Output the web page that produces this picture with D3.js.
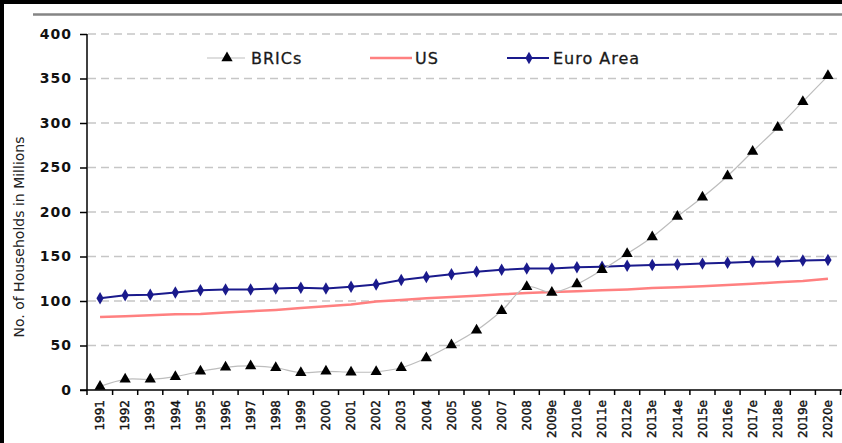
<!DOCTYPE html>
<html><head><meta charset="utf-8">
<script src="https://cdn.jsdelivr.net/npm/d3@7/dist/d3.min.js"></script>
<style>html,body{margin:0;padding:0;background:#fff;overflow:hidden}</style>
</head><body>
<script>
const categories = ["1991","1992","1993","1994","1995","1996","1997","1998","1999","2000","2001","2002","2003","2004","2005","2006","2007","2008","2009e","2010e","2011e","2012e","2013e","2014e","2015e","2016e","2017e","2018e","2019e","2020e"];
const brics = [4,12,12,15,21,25.5,27,25,19.5,21,20,20.5,25,36,50.5,67,89,116,109.5,119,135,153,172,195,216.5,240.5,268,295,324,353];
const us = [82,83,84,85,85.5,87,88.5,90,92,94,96,99.5,101,103,104.5,106,107.5,109,110,111,112,113,114.5,115.5,116.5,118,119.5,121,122.5,125];
const euro = [103,106.5,107,109.5,112,113,113,114,115,114,116,118.5,123.5,127,130,133,135,136.5,136.5,138,138.5,139.5,140.5,141,142,143,144,144.5,145.5,146];
const yTicks = [0,50,100,150,200,250,300,350,400];
const seriesNames = ["BRICs","US","Euro Area"];

const W = 842, H = 443;
const svg = d3.select("body").append("svg").attr("width", W).attr("height", H);
svg.append("rect").attr("width", W).attr("height", H).attr("fill", "#fff");

const x = d3.scaleBand().domain(categories).range([87.5, 840.5]).padding(0);
const y = d3.scaleLinear().domain([0, 400]).range([390, 34]);
const cx = d => x(d) + x.bandwidth() / 2;

// frame
svg.append("rect").attr("x", 0).attr("y", 0).attr("width", 4).attr("height", H).attr("fill", "#000");
svg.append("rect").attr("x", 0).attr("y", 0).attr("width", W).attr("height", 4).attr("fill", "#000");
svg.append("line").attr("x1", 33).attr("x2", W).attr("y1", 14.5).attr("y2", 14.5).attr("stroke", "#858585").attr("stroke-width", 2.5);

// grid
svg.append("g").selectAll("line").data(yTicks.filter(d => d > 0)).join("line")
  .attr("x1", 88).attr("x2", 837).attr("y1", d => y(d)).attr("y2", d => y(d))
  .attr("stroke", "#c6c6c6").attr("stroke-width", 1.5).attr("stroke-dasharray", "8,5");

// y axis
const yAxis = svg.append("g").attr("transform", "translate(87,0)")
  .call(d3.axisLeft(y).tickValues(yTicks).tickSize(7).tickSizeOuter(0).tickPadding(8));
yAxis.select(".domain").remove();
yAxis.selectAll("line").attr("stroke", "#000").attr("stroke-width", 1.5);
yAxis.selectAll("text").attr("font-family", "DejaVu Sans").attr("font-weight", "bold")
  .attr("font-size", 14).attr("letter-spacing", 1).attr("fill", "#111");
svg.append("line").attr("x1", 87).attr("x2", 87).attr("y1", 34).attr("y2", 395).attr("stroke", "#000").attr("stroke-width", 1.5);

// x axis
svg.append("line").attr("x1", 80).attr("x2", W).attr("y1", 390).attr("y2", 390).attr("stroke", "#000").attr("stroke-width", 1.5);
svg.append("g").selectAll("line").data(categories.slice(1)).join("line")
  .attr("x1", d => x(d)).attr("x2", d => x(d)).attr("y1", 390).attr("y2", 395)
  .attr("stroke", "#000").attr("stroke-width", 1.5);
svg.append("line").attr("x1", x.range()[1]).attr("x2", x.range()[1]).attr("y1", 390).attr("y2", 395).attr("stroke", "#000").attr("stroke-width", 1.5);
const xAxis = svg.append("g").attr("transform", "translate(0,390)")
  .call(d3.axisBottom(x).tickSize(0).tickPadding(0));
xAxis.select(".domain").remove();
xAxis.selectAll("text")
  .attr("transform", "rotate(-90)")
  .attr("x", -10).attr("y", 0).attr("dy", "0.35em")
  .attr("text-anchor", "end")
  .attr("font-family", "DejaVu Sans").attr("font-size", 12).attr("fill", "#111")
  .attr("stroke", "#111").attr("stroke-width", 0.4);

// y title
svg.append("text").attr("transform", "translate(24,237) rotate(-90)")
  .attr("text-anchor", "middle").attr("font-family", "DejaVu Sans").attr("font-size", 14)
  .attr("fill", "#222").text("No. of Households in Millions");

// lines
const line = d3.line().x((d, i) => cx(categories[i])).y(d => y(d));
svg.append("path").datum(us).attr("d", line).attr("fill", "none").attr("stroke", "#ff8080").attr("stroke-width", 2.5);
svg.append("path").datum(euro).attr("d", line.curve(d3.curveLinear)).attr("fill", "none").attr("stroke", "#1a1a8c").attr("stroke-width", 2);
const sline = d3.line().x((d, i) => cx(categories[i])).y(d => y(d)).curve(d3.curveCatmullRom.alpha(0.5));
svg.append("path").datum(brics).attr("d", sline).attr("fill", "none").attr("stroke", "#bdbdbd").attr("stroke-width", 1.2);

const diamond = d3.symbol().type(d3.symbolDiamond).size(45);
const tri = d3.symbol().type(d3.symbolTriangle).size(55);
svg.append("g").selectAll("path").data(euro).join("path")
  .attr("d", diamond).attr("transform", (d, i) => `translate(${cx(categories[i])},${y(d)})`).attr("fill", "#1a1a8c");
svg.append("g").selectAll("path").data(brics).join("path")
  .attr("d", tri).attr("transform", (d, i) => `translate(${cx(categories[i])},${y(d)})`).attr("fill", "#000");

// legend
const lg = svg.append("g").attr("font-family", "DejaVu Sans").attr("font-size", 16).attr("letter-spacing", 1)
  .attr("fill", "#1a1a1a").attr("stroke", "#1a1a1a").attr("stroke-width", 0.3);
const ly = 58;
lg.append("line").attr("x1", 207).attr("x2", 245).attr("y1", ly).attr("y2", ly).attr("stroke", "#bdbdbd").attr("stroke-width", 1.2);
lg.append("path").attr("d", tri).attr("transform", `translate(227,${ly})`).attr("fill", "#000").attr("stroke", "none");
lg.append("text").attr("x", 251).attr("y", ly).attr("dy", "0.36em").text(seriesNames[0]);
lg.append("line").attr("x1", 370).attr("x2", 412).attr("y1", ly).attr("y2", ly).attr("stroke", "#ff8080").attr("stroke-width", 2.5);
lg.append("text").attr("x", 415).attr("y", ly).attr("dy", "0.36em").text(seriesNames[1]);
lg.append("line").attr("x1", 507).attr("x2", 549).attr("y1", ly).attr("y2", ly).attr("stroke", "#1a1a8c").attr("stroke-width", 2);
lg.append("path").attr("d", diamond).attr("transform", `translate(529,${ly})`).attr("fill", "#1a1a8c").attr("stroke", "none");
lg.append("text").attr("x", 553).attr("y", ly).attr("dy", "0.36em").text(seriesNames[2]);
</script>
</body></html>
